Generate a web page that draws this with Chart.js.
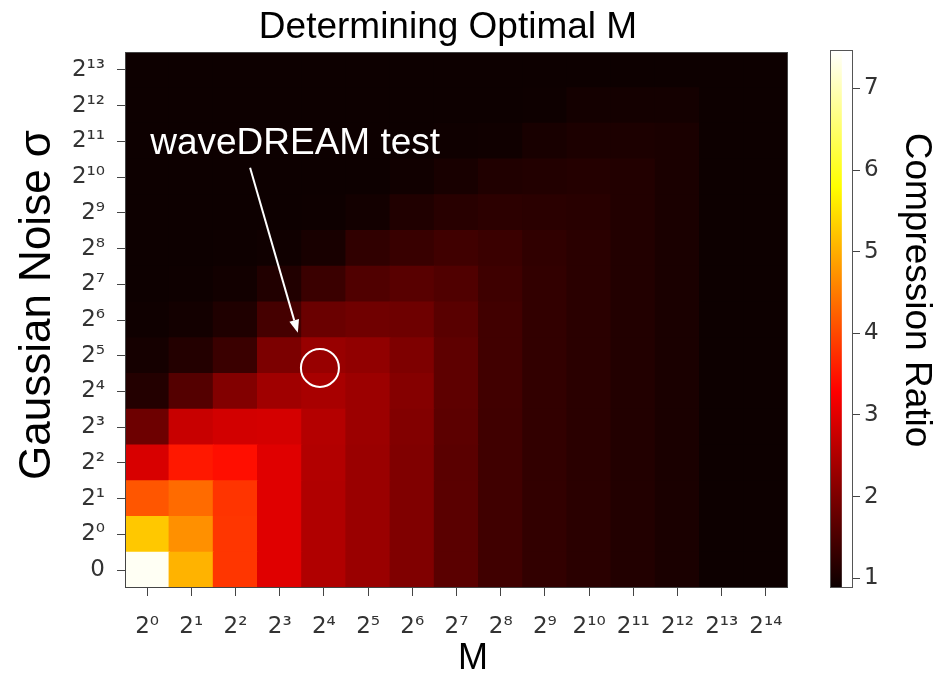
<!DOCTYPE html>
<html><head><meta charset="utf-8">
<script src="https://cdn.jsdelivr.net/npm/chart.js@4.4.1/dist/chart.umd.min.js"></script>
<style>
html,body{margin:0;padding:0;background:#fff;}
#wrap{position:relative;width:942px;height:681px;}
canvas{position:absolute;left:0;top:0;}
</style>
</head><body>
<div id="wrap"><canvas id="main" width="942" height="681"></canvas><canvas id="cbar" width="942" height="681"></canvas></div>
<script>
// ---- data ----
const mLabels = ['2⁰','2¹','2²','2³','2⁴','2⁵','2⁶','2⁷','2⁸','2⁹','2¹⁰','2¹¹','2¹²','2¹³','2¹⁴'];
const sigmaLabels = ['0','2⁰','2¹','2²','2³','2⁴','2⁵','2⁶','2⁷','2⁸','2⁹','2¹⁰','2¹¹','2¹²','2¹³'];
// compression ratio, one row per sigma (bottom "0" first), one value per M
const rowSigma0  = [7.40,5.05,3.82,2.98,2.51,2.29,2.04,1.66,1.41,1.27,1.19,1.11,1.03,0.90,0.90];
const rowSigma1  = [5.25,4.70,3.82,2.98,2.51,2.29,2.04,1.66,1.41,1.27,1.19,1.11,1.03,0.90,0.90];
const rowSigma2  = [4.13,4.34,3.80,2.98,2.51,2.29,2.04,1.66,1.41,1.27,1.19,1.11,1.03,0.90,0.90];
const rowSigma4  = [2.90,3.52,3.42,2.98,2.53,2.29,2.04,1.66,1.41,1.27,1.19,1.11,1.03,0.90,0.90];
const rowSigma8  = [1.85,2.74,2.84,2.86,2.55,2.31,2.06,1.68,1.41,1.27,1.19,1.11,1.03,0.90,0.90];
const rowSigma16 = [1.12,1.60,2.06,2.35,2.43,2.31,2.08,1.70,1.42,1.27,1.19,1.11,1.03,0.90,0.90];
const rowSigma32 = [0.98,1.12,1.35,2.00,2.27,2.20,2.02,1.70,1.42,1.27,1.19,1.11,1.03,0.90,0.90];
const rowSigma64 = [0.92,0.96,1.08,1.45,1.82,1.88,1.86,1.65,1.42,1.27,1.19,1.11,1.03,0.90,0.90];
const rowSigma128= [0.90,0.91,0.95,1.10,1.35,1.56,1.64,1.56,1.39,1.27,1.19,1.11,1.03,0.90,0.90];
const rowSigma256= [0.90,0.90,0.91,0.93,1.01,1.25,1.33,1.41,1.35,1.25,1.19,1.11,1.03,0.90,0.90];
const rowSigma512= [0.90,0.90,0.90,0.90,0.91,0.96,1.09,1.17,1.21,1.19,1.17,1.11,1.03,0.90,0.90];
const rowSigma1k = [0.90,0.90,0.90,0.90,0.90,0.90,0.94,1.01,1.09,1.11,1.13,1.11,1.03,0.90,0.90];
const rowSigma2k = [0.90,0.90,0.90,0.90,0.90,0.90,0.90,0.92,0.93,1.01,1.05,1.05,1.03,0.90,0.90];
const rowSigma4k = [0.90,0.90,0.90,0.90,0.90,0.90,0.90,0.90,0.90,0.91,0.97,0.97,0.97,0.90,0.90];
const rowSigma8k = [0.90,0.90,0.90,0.90,0.90,0.90,0.90,0.90,0.90,0.90,0.90,0.90,0.90,0.90,0.90];
const ratioRows = [rowSigma0,rowSigma1,rowSigma2,rowSigma4,rowSigma8,rowSigma16,rowSigma32,rowSigma64,
  rowSigma128,rowSigma256,rowSigma512,rowSigma1k,rowSigma2k,rowSigma4k,rowSigma8k];
const cbarTicks = [1,2,3,4,5,6,7];
const vMin = 0.88, vMax = 7.47;
// annotation in data units (M index, sigma index)
const annText = {label:'waveDREAM test', m:0.07, s:11.65};
const annArrow = {m0:2.33, s0:11.26, m1:3.41, s1:6.64};
const annCircle = {m:3.91, s:5.66, r:19};

// ---- hot colormap ----
const K1 = 0.365079, K2 = 0.746032;
function hotRGB(t){
  t = Math.max(0, Math.min(1, t));
  const r = t < K1 ? 0.0416 + (1-0.0416)*t/K1 : 1;
  const g = t < K1 ? 0 : (t < K2 ? (t-K1)/(K2-K1) : 1);
  const b = t < K2 ? 0 : (t-K2)/(1-K2);
  return [Math.round(r*255), Math.round(g*255), Math.round(b*255)];
}
function hot(v){ const c = hotRGB((v - vMin)/(vMax - vMin)); return `rgb(${c[0]},${c[1]},${c[2]})`; }

const tickFont = {family:'DejaVu Sans', size:23};
const tickColor = '#333';
const labelFont = '"Liberation Sans", Arial, sans-serif';

// ---- main heatmap ----
const datasets = sigmaLabels.map((lab, r) => ({
  label: lab,
  data: mLabels.map(() => [r - 0.5, r + 0.5]),
  backgroundColor: ratioRows[r].map(hot),
  borderWidth: 0,
  grouped: false,
  barPercentage: 1,
  categoryPercentage: 1,
  inflateAmount: 0.6
}));

const mainDecor = {
  id: 'mainDecor',
  afterDatasetsDraw(chart){
    const {ctx, chartArea: a, scales: {x, y}} = chart;
    ctx.save();
    ctx.strokeStyle = '#444'; ctx.lineWidth = 1;
    ctx.strokeRect(Math.round(a.left)+0.5, Math.round(a.top)+0.5, Math.round(a.right-a.left)-1, Math.round(a.bottom-a.top)-1);
    ctx.fillStyle = '#fff'; ctx.strokeStyle = '#fff';
    ctx.font = `37px ${labelFont}`;
    ctx.textAlign = 'left'; ctx.textBaseline = 'alphabetic';
    ctx.fillText(annText.label, x.getPixelForValue(annText.m), y.getPixelForValue(annText.s));
    const x0 = x.getPixelForValue(annArrow.m0), y0 = y.getPixelForValue(annArrow.s0);
    const x1 = x.getPixelForValue(annArrow.m1), y1 = y.getPixelForValue(annArrow.s1);
    const ang = Math.atan2(y1-y0, x1-x0), hl = 13, hw = 5;
    ctx.lineWidth = 2;
    ctx.beginPath(); ctx.moveTo(x0, y0);
    ctx.lineTo(x1 - hl*Math.cos(ang), y1 - hl*Math.sin(ang)); ctx.stroke();
    ctx.beginPath(); ctx.moveTo(x1, y1);
    ctx.lineTo(x1 - hl*Math.cos(ang) + hw*Math.sin(ang), y1 - hl*Math.sin(ang) - hw*Math.cos(ang));
    ctx.lineTo(x1 - hl*Math.cos(ang) - hw*Math.sin(ang), y1 - hl*Math.sin(ang) + hw*Math.cos(ang));
    ctx.closePath(); ctx.fill();
    ctx.beginPath();
    ctx.arc(x.getPixelForValue(annCircle.m), y.getPixelForValue(annCircle.s), annCircle.r, 0, Math.PI*2);
    ctx.stroke();
    ctx.restore();
  },
  afterDraw(chart){
    const {ctx} = chart;
    ctx.save();
    ctx.fillStyle = '#000';
    ctx.textAlign = 'center'; ctx.textBaseline = 'alphabetic';
    ctx.font = `37px ${labelFont}`;
    ctx.fillText('Determining Optimal M', 448, 38);
    ctx.font = `36px ${labelFont}`;
    ctx.fillText('M', 473, 669);
    ctx.translate(50, 305); ctx.rotate(-Math.PI/2);
    ctx.font = `44px ${labelFont}`;
    ctx.fillText('Gaussian Noise σ', 0, 0);
    ctx.restore();
  }
};

new Chart(document.getElementById('main'), {
  type: 'bar',
  data: {labels: mLabels, datasets},
  options: {
    responsive: false, animation: false, devicePixelRatio: 1,
    layout: {padding: {left: 0, right: 154, top: 52, bottom: 0}},
    plugins: {legend: {display: false}, tooltip: {enabled: false}, title: {display: false}},
    scales: {
      x: {
        type: 'category', offset: true,
        grid: {display: true, offset: false, drawOnChartArea: false, drawTicks: true, tickLength: 8, color: '#444'},
        border: {display: false},
        ticks: {font: tickFont, color: tickColor, padding: 17, maxRotation: 0, autoSkip: false},
        afterFit: s => { s.height = 93; }
      },
      y: {
        type: 'linear', min: -0.5, max: 14.5,
        afterBuildTicks: s => { s.ticks = sigmaLabels.map((_, i) => ({value: i})); },
        grid: {display: true, drawOnChartArea: false, drawTicks: true, tickLength: 8, color: '#444'},
        border: {display: false},
        ticks: {font: tickFont, color: tickColor, padding: 12, callback: v => sigmaLabels[v]},
        afterFit: s => { s.width = 125; }
      }
    }
  },
  plugins: [mainDecor]
});

// ---- colorbar ----
const cbarDecor = {
  id: 'cbarDecor',
  afterDatasetsDraw(chart){
    const {ctx, chartArea: a} = chart;
    ctx.save();
    ctx.strokeStyle = '#555'; ctx.lineWidth = 1;
    ctx.strokeRect(Math.round(a.left)+0.5, Math.round(a.top)+0.5, Math.round(a.right-a.left)-1, Math.round(a.bottom-a.top)-1);
    ctx.restore();
  },
  afterDraw(chart){
    const {ctx} = chart;
    ctx.save();
    ctx.fillStyle = '#000';
    ctx.textAlign = 'center'; ctx.textBaseline = 'alphabetic';
    ctx.font = `37px ${labelFont}`;
    ctx.translate(906, 290); ctx.rotate(Math.PI/2);
    ctx.fillText('Compression Ratio', 0, 0);
    ctx.restore();
  }
};

function cbarGradient(context){
  const chart = context.chart;
  const {ctx, chartArea} = chart;
  if (!chartArea) return '#000';
  const ys = chart.scales.y;
  const p0 = ys.getPixelForValue(vMin), p1 = ys.getPixelForValue(vMax);
  const g = ctx.createLinearGradient(0, p0, 0, p1);
  [0, K1, K2, 1].forEach(t => { const c = hotRGB(t); g.addColorStop(t, `rgb(${c[0]},${c[1]},${c[2]})`); });
  return g;
}

new Chart(document.getElementById('cbar'), {
  type: 'bar',
  data: {labels: ['ratio'], datasets: [{data: [[vMin, vMax]], backgroundColor: cbarGradient, borderWidth: 0, barPercentage: 1, categoryPercentage: 1}]},
  options: {
    responsive: false, animation: false, devicePixelRatio: 1,
    layout: {padding: {left: 830, right: 0, top: 50, bottom: 93}},
    plugins: {legend: {display: false}, tooltip: {enabled: false}},
    scales: {
      x: {display: false, offset: false},
      y: {
        type: 'linear', position: 'right', min: vMin, max: vMax,
        afterBuildTicks: s => { s.ticks = cbarTicks.map(v => ({value: v})); },
        grid: {display: true, drawOnChartArea: false, drawTicks: true, tickLength: 7, color: '#444'},
        border: {display: false},
        ticks: {font: tickFont, color: tickColor, padding: 4},
        afterFit: s => { s.width = 89; }
      }
    }
  },
  plugins: [cbarDecor]
});
</script>
</body></html>
